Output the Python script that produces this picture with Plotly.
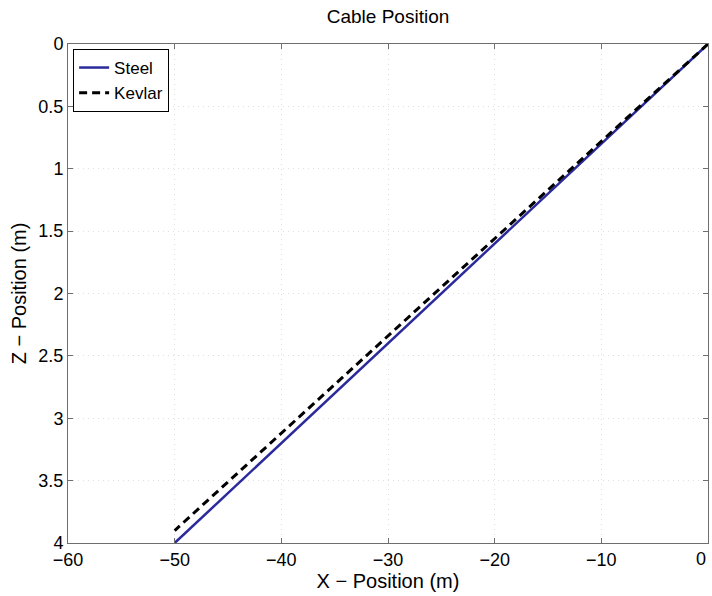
import plotly.graph_objects as go

# Cable shape: horizontal offset (m) and depth (m) along each cable
steel_x = [0, -10, -20, -30, -40, -50]
steel_z = [0, 0.8, 1.6, 2.4, 3.2, 4.0]

kevlar_x = [0, -10, -20, -30, -40, -50]
kevlar_z = [0, 0.78, 1.56, 2.34, 3.12, 3.9]

x_ticks = [-60, -50, -40, -30, -20, -10, 0]
z_ticks = [0, 0.5, 1, 1.5, 2, 2.5, 3, 3.5, 4]

FONT = "Liberation Sans, Arial, sans-serif"

fig = go.Figure()
fig.add_trace(go.Scatter(
    x=steel_x, y=steel_z, mode="lines", name="Steel",
    line=dict(color="#2a2a9c", width=2.5),
))
fig.add_trace(go.Scatter(
    x=kevlar_x, y=kevlar_z, mode="lines", name="Kevlar",
    line=dict(color="black", width=3, dash="8px,5px"),
))

axis_common = dict(
    showline=True, linecolor="#6e6e6e", linewidth=1, mirror="ticks",
    ticks="inside", ticklen=5, tickcolor="#6e6e6e",
    showgrid=True, gridcolor="#dedede", griddash="1px,4px", gridwidth=1,
    zeroline=False, tickfont=dict(size=18, color="black"),
)

fig.update_layout(
    width=712, height=596,
    margin=dict(l=68, r=4, t=44, b=53),
    paper_bgcolor="white", plot_bgcolor="white",
    font=dict(family=FONT, color="black"),
    title=dict(text="Cable Position", x=0.545, xanchor="center",
               y=0.972, yanchor="middle", font=dict(size=19)),
    xaxis=dict(range=[-60, 0], tickvals=x_ticks,
               ticktext=[f"\u2212{-v}" if v < 0 else "" for v in x_ticks],
               title=dict(text="X \u2212 Position (m)", font=dict(size=20), standoff=4),
               **axis_common),
    yaxis=dict(range=[4, 0], tickvals=z_ticks,
               ticktext=[f"{v:g}" for v in z_ticks],
               title=dict(text="Z \u2212 Position (m)", font=dict(size=20), standoff=6),
               **axis_common),
    legend=dict(x=0.008, y=0.99, xanchor="left", yanchor="top",
                bgcolor="white", bordercolor="black", borderwidth=1,
                font=dict(size=17), tracegroupgap=0),
    showlegend=True,
)

# The right-most x tick label sits on the figure edge, so place it as an
# annotation anchored to the axis value so it is never dropped.
fig.add_annotation(
    x=x_ticks[-1], y=0, xref="x", yref="paper", yshift=-4,
    text=f"{x_ticks[-1]}", showarrow=False, xanchor="right", yanchor="top",
    font=dict(size=18, color="black"),
)

fig.write_html("out.html")
